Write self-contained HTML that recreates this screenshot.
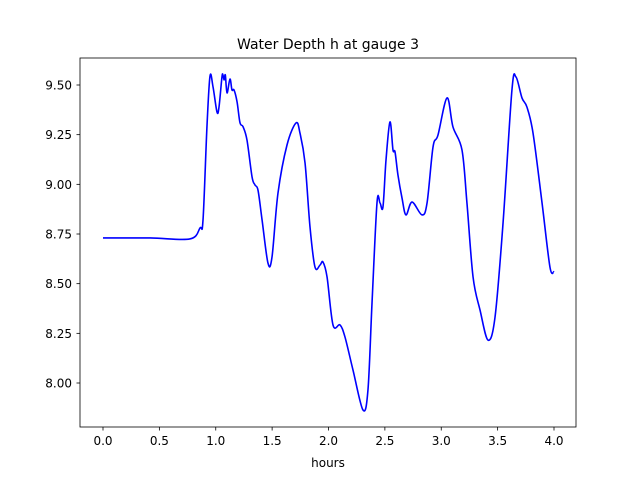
<!DOCTYPE html>
<html><head><meta charset="utf-8"><style>
body{margin:0;background:#fff}
svg{display:block;font-family:"DejaVu Sans","Liberation Sans",sans-serif}
</style></head><body>
<svg id="chart" width="640" height="480">
<rect width="640" height="480" fill="#fff"/>
<text x="328" y="49" font-size="14" text-anchor="middle">Water Depth h at gauge 3</text>
<g id="xticks"></g>
<g id="yticks"></g>
<path id="line" fill="none" stroke="#0000ff" stroke-width="1.6" stroke-linejoin="round"/>
<rect x="80" y="58" width="496" height="369" fill="none" stroke="#000" stroke-width="0.8"/>
<text x="328" y="467" font-size="12" text-anchor="middle">hours</text>
</svg>
<script>
const hours=[0,0.42,0.77,0.86,0.887,0.922,0.949,0.976,1.011,1.029,1.055,1.064,1.074,1.085,1.10,1.126,1.144,1.162,1.189,1.215,1.242,1.277,1.322,1.348,1.375,1.411,1.463,1.499,1.552,1.632,1.712,1.747,1.792,1.836,1.880,1.925,1.951,1.987,2.040,2.102,2.146,2.217,2.306,2.350,2.386,2.430,2.457,2.483,2.510,2.545,2.572,2.59,2.616,2.652,2.687,2.741,2.829,2.874,2.927,2.971,3.051,3.104,3.184,3.228,3.282,3.344,3.415,3.477,3.548,3.627,3.663,3.716,3.760,3.814,3.894,3.964,4.0];
const depth=[8.73,8.73,8.725,8.78,8.82,9.29,9.545,9.49,9.364,9.39,9.54,9.55,9.525,9.55,9.46,9.53,9.475,9.475,9.415,9.31,9.29,9.223,9.037,8.997,8.97,8.82,8.604,8.634,8.956,9.198,9.309,9.258,9.107,8.785,8.584,8.594,8.609,8.534,8.292,8.292,8.232,8.066,7.864,7.965,8.403,8.906,8.906,8.886,9.122,9.314,9.173,9.163,9.047,8.931,8.846,8.911,8.846,8.906,9.188,9.248,9.435,9.289,9.173,8.906,8.534,8.367,8.216,8.332,8.805,9.475,9.54,9.435,9.389,9.258,8.906,8.584,8.56];
const xTicks=[0,0.5,1,1.5,2,2.5,3,3.5,4];
const xTickLabels=["0.0","0.5","1.0","1.5","2.0","2.5","3.0","3.5","4.0"];
const yTicks=[8.0,8.25,8.5,8.75,9.0,9.25,9.5];
const yTickLabels=["8.00","8.25","8.50","8.75","9.00","9.25","9.50"];
const X=h=>103+(h-0)*112.75;
const Y=v=>85+(9.5-v)*198.67;
const NS="http://www.w3.org/2000/svg";
const xg=document.getElementById('xticks'),yg=document.getElementById('yticks');
xTicks.forEach((t,i)=>{
 const l=document.createElementNS(NS,'line');
 
 
 l.setAttribute('x1',X(t));l.setAttribute('x2',X(t));l.setAttribute('y1',427);l.setAttribute('y2',430.5);l.setAttribute('stroke','#000');l.setAttribute('stroke-width','0.8');
 xg.appendChild(l);
 const tx=document.createElementNS(NS,'text');
 
 
 tx.setAttribute('x',X(t));tx.setAttribute('y',445);tx.setAttribute('font-size','12');tx.setAttribute('text-anchor','middle');
 tx.textContent=xTickLabels[i];xg.appendChild(tx);
});
yTicks.forEach((t,i)=>{
 const l=document.createElementNS(NS,'line');
 
 
 l.setAttribute('x1',76.5);l.setAttribute('x2',80);l.setAttribute('y1',Y(t));l.setAttribute('y2',Y(t));l.setAttribute('stroke','#000');l.setAttribute('stroke-width','0.8');
 yg.appendChild(l);
 const tx=document.createElementNS(NS,'text');
 
 
 tx.setAttribute('x',72);tx.setAttribute('y',Y(t)+4.5);tx.setAttribute('font-size','12');tx.setAttribute('text-anchor','end');
 tx.textContent=yTickLabels[i];yg.appendChild(tx);
});
const pts=hours.map((h,i)=>[X(h),Y(depth[i])]);
let d='M'+pts[0][0]+','+pts[0][1];
for(let i=0;i<pts.length-1;i++){
 const p0=pts[Math.max(0,i-1)],p1=pts[i],p2=pts[i+1],p3=pts[Math.min(pts.length-1,i+2)];
 const c1=[p1[0]+(p2[0]-p0[0])/6,p1[1]+(p2[1]-p0[1])/6];
 const c2=[p2[0]-(p3[0]-p1[0])/6,p2[1]-(p3[1]-p1[1])/6];
 d+=' C'+c1[0]+','+c1[1]+' '+c2[0]+','+c2[1]+' '+p2[0]+','+p2[1];
}
document.getElementById('line').setAttribute('d',d);
</script>
</body></html>
